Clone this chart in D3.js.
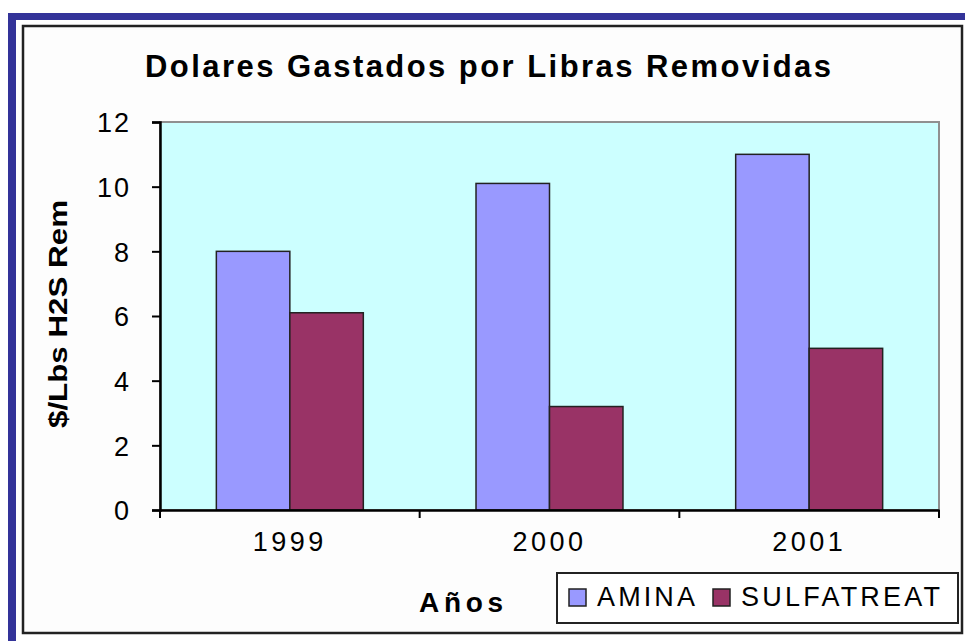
<!DOCTYPE html>
<html><head><meta charset="utf-8">
<script src="https://cdn.jsdelivr.net/npm/d3@7"></script>
<style>body{margin:0;background:#fff}svg{display:block}text{font-family:"Liberation Sans",Arial,sans-serif;fill:#000}</style>
</head><body><svg id="c" width="965" height="641"></svg>
<script>
const categories = ["1999", "2000", "2001"];
const seriesNames = ["AMINA", "SULFATREAT"];
const amina = [8.0, 10.1, 11.0];
const sulfatreat = [6.1, 3.2, 5.0];
const yTicks = [0, 2, 4, 6, 8, 10, 12];
const colors = ["#9999FF", "#993366"];
const title = "Dolares Gastados por Libras Removidas";
const yTitle = "$/Lbs H2S Rem";
const xTitle = "Años";

const svg = d3.select("#c");
// outer decoration
svg.append("rect").attr("x", 0).attr("y", 0).attr("width", 965).attr("height", 641).attr("fill", "#fff");
svg.append("rect").attr("x", 8).attr("y", 13).attr("width", 957).attr("height", 7).attr("fill", "#333399");
svg.append("rect").attr("x", 8).attr("y", 13).attr("width", 8).attr("height", 628).attr("fill", "#333399");
svg.append("rect").attr("x", 23).attr("y", 26).attr("width", 939).attr("height", 607)
  .attr("fill", "#fdfdfd").attr("stroke", "#222").attr("stroke-width", 2.5);

const m = {l: 160, t: 122, r: 939, b: 510};
const x = d3.scaleBand().domain(categories).range([m.l, m.r]).padding(0);
const y = d3.scaleLinear().domain([0, 12]).range([m.b, m.t]);

// plot area
svg.append("rect").attr("x", m.l).attr("y", m.t).attr("width", m.r - m.l).attr("height", m.b - m.t)
  .attr("fill", "#CCFFFF").attr("stroke", "#909090").attr("stroke-width", 2);

const groupW = x.bandwidth() * 0.566;
const xs = d3.scaleBand().domain(seriesNames).range([0, groupW]).padding(0);
const data = [amina, sulfatreat];
seriesNames.forEach((s, si) => {
  svg.append("g").selectAll("rect").data(categories).join("rect")
    .attr("x", c => x(c) + (x.bandwidth() - groupW) / 2 + xs(s))
    .attr("y", (c, i) => y(data[si][i]))
    .attr("width", xs.bandwidth())
    .attr("height", (c, i) => y(0) - y(data[si][i]))
    .attr("fill", colors[si]).attr("stroke", "#222").attr("stroke-width", 1.5);
});

// y axis
const ya = svg.append("g").attr("transform", `translate(${m.l},0)`)
  .call(d3.axisLeft(y).tickValues(yTicks).tickSize(8).tickPadding(21).tickFormat(d3.format("d")));
ya.select(".domain").attr("stroke", "#000").attr("stroke-width", 2.5);
ya.selectAll(".tick line").attr("stroke", "#000").attr("stroke-width", 2);
ya.selectAll("text").style("font-size", "27px").attr("letter-spacing", "2px").attr("dy", "0.36em");

// x axis
const xa = svg.append("g").attr("transform", `translate(0,${m.b})`)
  .call(d3.axisBottom(x).tickSize(0).tickPadding(36));
xa.select(".domain").attr("stroke", "#000").attr("stroke-width", 2.5);
xa.selectAll("text").style("font-size", "27px").attr("letter-spacing", "3.5px").attr("dy", "0.2em");
const bounds = [m.l, ...categories.map(c => x(c) + x.bandwidth())];
svg.append("g").selectAll("line").data(bounds).join("line")
  .attr("x1", d => d).attr("x2", d => d).attr("y1", m.b).attr("y2", m.b + 8)
  .attr("stroke", "#000").attr("stroke-width", 2);

// titles
svg.append("text").attr("x", 145).attr("y", 77).attr("textLength", 686).attr("lengthAdjust", "spacing")
  .style("font-size", "31px").style("font-weight", "bold").text(title);
svg.append("text").attr("transform", "translate(67,428) rotate(-90)").attr("textLength", 228)
  .attr("lengthAdjust", "spacingAndGlyphs").style("font-size", "26px").style("font-weight", "bold").text(yTitle);
svg.append("text").attr("x", 419).attr("y", 612).attr("textLength", 84).attr("lengthAdjust", "spacing")
  .style("font-size", "28px").style("font-weight", "bold").text(xTitle);

// legend
const lg = svg.append("g");
lg.append("rect").attr("x", 557).attr("y", 573).attr("width", 401).attr("height", 50)
  .attr("fill", "#fff").attr("stroke", "#222").attr("stroke-width", 2);
const legX = [569, 713], legTxt = [597, 741], legLen = [98, 199];
seriesNames.forEach((s, i) => {
  lg.append("rect").attr("x", legX[i]).attr("y", 589).attr("width", 17).attr("height", 17)
    .attr("fill", colors[i]).attr("stroke", "#222").attr("stroke-width", 1.5);
  lg.append("text").attr("x", legTxt[i]).attr("y", 606).attr("textLength", legLen[i]).attr("lengthAdjust", "spacing")
    .style("font-size", "27px").text(s);
});
</script></body></html>
